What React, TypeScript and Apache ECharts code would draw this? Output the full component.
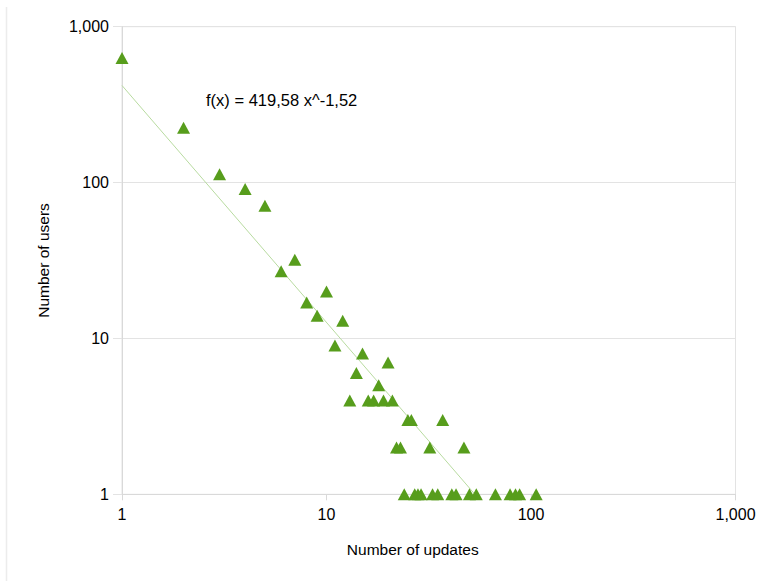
import React, { useEffect, useRef } from "react";
import * as echarts from "echarts";

// Number of updates (x) and number of users (y)
const updates = [
  1, 2, 3, 4, 5, 6, 7, 8, 9, 10, 11, 12, 13, 14, 15, 16, 17, 18, 19, 20, 21,
  22, 23, 25, 26, 32, 37, 47,
  24, 27, 28, 29, 33, 35, 41, 43, 50, 54, 67, 79, 84, 88, 106,
];
const users = [
  630, 225, 113, 91, 71, 27, 32, 17, 14, 20, 9, 13, 4, 6, 8, 4, 4, 5, 4, 7, 4,
  2, 2, 3, 3, 2, 3, 2,
  1, 1, 1, 1, 1, 1, 1, 1, 1, 1, 1, 1, 1, 1, 1,
];

// Power trend line f(x) = a * x^b
const trendA = 419.58;
const trendB = -1.52;
const trendLabel = "f(x) = 419,58 x^-1,52";

const xTickLabels: Record<number, string> = { 1: "1", 10: "10", 100: "100", 1000: "1,000" };
const yTickLabels: Record<number, string> = { 1: "1", 10: "10", 100: "100", 1000: "1,000" };

const xName = "Number of updates";
const yName = "Number of users";

export default function App() {
  const ref = useRef<HTMLDivElement>(null);
  useEffect(() => {
    if (!ref.current) return;
    const chart = echarts.init(ref.current, undefined, { renderer: "svg" });
    const points = updates.map((x, i) => [x, users[i]]);
    const xMin = Math.min(...updates);
    const xMax = Math.max(...updates);
    // clip trend at y = 1 (axis minimum)
    const xAtOne = Math.pow(1 / trendA, 1 / trendB);
    const xEnd = Math.min(xMax, xAtOne);
    const trend = [
      [xMin, trendA * Math.pow(xMin, trendB)],
      [xEnd, trendA * Math.pow(xEnd, trendB)],
    ];
    const font = "'Liberation Sans', Arial, sans-serif";
    chart.setOption({
      animation: false,
      backgroundColor: "#ffffff",
      grid: {
        left: 122,
        top: 26.7,
        right: 25.5,
        bottom: 86.7,
        show: true,
        borderColor: "#e3e3e3",
        borderWidth: 1,
      },
      xAxis: {
        type: "log",
        logBase: 10,
        min: 1,
        max: 1000,
        name: xName,
        nameLocation: "middle",
        nameGap: 47,
        nameTextStyle: { fontFamily: font, fontSize: 15.5, color: "#000", padding: [0, 32, 0, 0] },
        axisLine: { show: true, lineStyle: { color: "#d9d9d9" } },
        axisTick: { show: true, length: 6, lineStyle: { color: "#d9d9d9" } },
        minorTick: { show: false },
        splitLine: { show: false },
        axisLabel: {
          margin: 12,
          fontFamily: font,
          fontSize: 16,
          color: "#000",
          formatter: (v: number) => xTickLabels[Math.round(v)] ?? "",
        },
      },
      yAxis: {
        type: "log",
        logBase: 10,
        min: 1,
        max: 1000,
        name: yName,
        nameLocation: "middle",
        nameGap: 71,
        nameTextStyle: { fontFamily: font, fontSize: 15.5, color: "#000" },
        axisLine: { show: true, lineStyle: { color: "#d9d9d9" } },
        axisTick: { show: true, length: 9, lineStyle: { color: "#e3e3e3" } },
        splitLine: { show: true, lineStyle: { color: "#e3e3e3", width: 1 } },
        axisLabel: {
          margin: 13,
          fontFamily: font,
          fontSize: 16,
          color: "#000",
          formatter: (v: number) => yTickLabels[Math.round(v)] ?? "",
        },
      },
      graphic: [
        {
          type: "line",
          shape: { x1: 6.5, y1: 7, x2: 6.5, y2: 581 },
          style: { stroke: "#ececec", lineWidth: 1.5 },
          silent: true,
        },
        {
          type: "text",
          left: 206,
          top: 91,
          style: { text: trendLabel, fontFamily: font, fontSize: 16.5, fill: "#000" },
          silent: true,
        },
      ],
      series: [
        {
          type: "line",
          data: trend,
          symbol: "none",
          lineStyle: { color: "#b8dba0", width: 1 },
          silent: true,
          z: 1,
        },
        {
          type: "scatter",
          data: points,
          symbol: "triangle",
          symbolSize: [13, 12],
          itemStyle: { color: "#579d1c", opacity: 1 },
          z: 2,
        },
      ],
    });
    return () => chart.dispose();
  }, []);
  return (
    <div
      ref={ref}
      style={{ position: "fixed", left: 0, top: 0, width: 761, height: 581 }}
    />
  );
}
